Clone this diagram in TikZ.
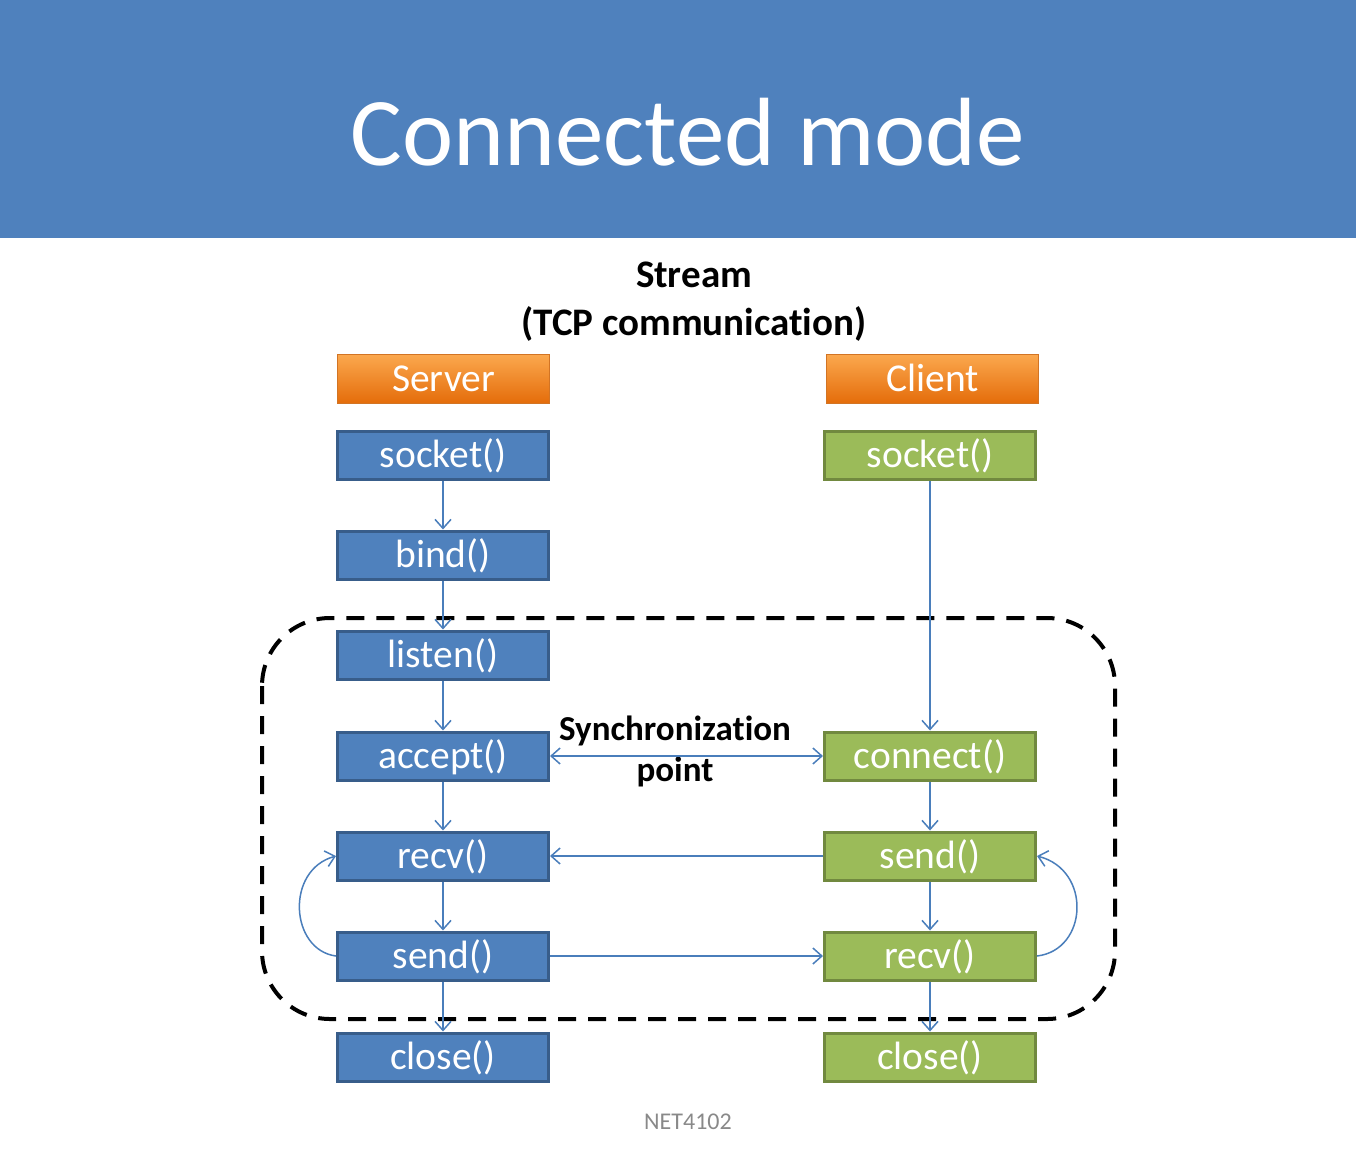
\documentclass[tikz,border=0pt]{standalone}
\usepackage{fontspec}
\setmainfont{Carlito}[Ligatures=NoCommon]
\usetikzlibrary{arrows.meta}
\definecolor{band}{HTML}{4F81BD}
\definecolor{bfill}{HTML}{4F81BD}
\definecolor{bdraw}{HTML}{385D8A}
\definecolor{gfill}{HTML}{9BBB59}
\definecolor{gdraw}{HTML}{71893F}
\definecolor{otop}{HTML}{FBA84E}
\definecolor{obot}{HTML}{E46C0A}
\definecolor{odraw}{HTML}{D27424}
\definecolor{arrowblue}{HTML}{4A7EBB}
\definecolor{foot}{HTML}{898989}
\tikzset{
  boxbase/.style={minimum width=211pt, minimum height=48pt, inner sep=0pt, line width=3pt,
    text=white, font=\fontsize{39.5}{42}\selectfont, text height=28pt, text depth=3pt},
  srvbox/.style={boxbase, fill=bfill, draw=bdraw},
  clibox/.style={boxbase, fill=gfill, draw=gdraw},
  hdrbox/.style={boxbase, line width=1.5pt, minimum width=212pt, minimum height=49pt,
    top color=otop, bottom color=obot, draw=odraw},
  tip/.tip={Straight Barb[length=9pt,width=16pt]},
  arr/.style={draw=arrowblue, line width=1.5pt, -tip},
  headtxt/.style={font=\bfseries\fontsize{39}{44}\selectfont, anchor=base},
  synctxt/.style={font=\bfseries\fontsize{35}{38}\selectfont, anchor=base},
}
\begin{document}
\begin{tikzpicture}[x=1pt,y=-1pt]
\useasboundingbox (0,0) rectangle (1356,1152);
\fill[band] (0,0) rectangle (1356,238);
\node[font=\fontsize{97}{110}\selectfont, text=white, anchor=base] (title) at (688,165) {Connected mode};
\node[headtxt] (stream) at (694,287) {Stream};
\node[headtxt] (tcp) at (694,335) {(TCP communication)};

% synchronization region
\draw[line width=4pt, dash pattern=on 18pt off 12pt, rounded corners=68pt] (262,618) rectangle (1115,1019);

\node[hdrbox] (server) at (443.5,379) {Server};
\node[hdrbox] (client) at (932.5,379) {Client};

\node[srvbox] (ssock) at (443,455) {socket()};
\node[srvbox] (sbind) at (443,555) {bind()};
\node[srvbox] (slisten) at (443,655) {listen()};
\node[srvbox] (saccept) at (443,756) {accept()};
\node[srvbox] (srecv) at (443,856) {recv()};
\node[srvbox] (ssend) at (443,956) {send()};
\node[srvbox] (sclose) at (443,1057) {close()};

\node[clibox] (csock) at (930,455) {socket()};
\node[clibox] (cconn) at (930,756) {connect()};
\node[clibox] (csend) at (930,856) {send()};
\node[clibox] (crecv) at (930,956) {recv()};
\node[clibox] (cclose) at (930,1057) {close()};

\node[synctxt] (sync1) at (675,740) {Synchronization};
\node[synctxt] (sync2) at (675,781) {point};

\draw[arr] (ssock) -- (sbind);
\draw[arr] (sbind) -- (slisten);
\draw[arr] (slisten) -- (saccept);
\draw[arr] (saccept) -- (srecv);
\draw[arr] (srecv) -- (ssend);
\draw[arr] (ssend) -- (sclose);

\draw[arr] (csock) -- (cconn);
\draw[arr] (cconn) -- (csend);
\draw[arr] (csend) -- (crecv);
\draw[arr] (crecv) -- (cclose);

\draw[arr, tip-tip] (saccept) -- (cconn);
\draw[arr] (csend) -- (srecv);
\draw[arr] (ssend) -- (crecv);

\draw[arr] (ssend.west) .. controls +(-46,-6) and +(-51,14) .. (srecv.west);
\draw[arr] (crecv.east) .. controls +(51,-6) and +(55,14) .. (csend.east);

\node[font=\fontsize{24}{28}\selectfont, text=foot, anchor=base] (footer) at (688,1129) {NET4102};
\end{tikzpicture}
\end{document}
